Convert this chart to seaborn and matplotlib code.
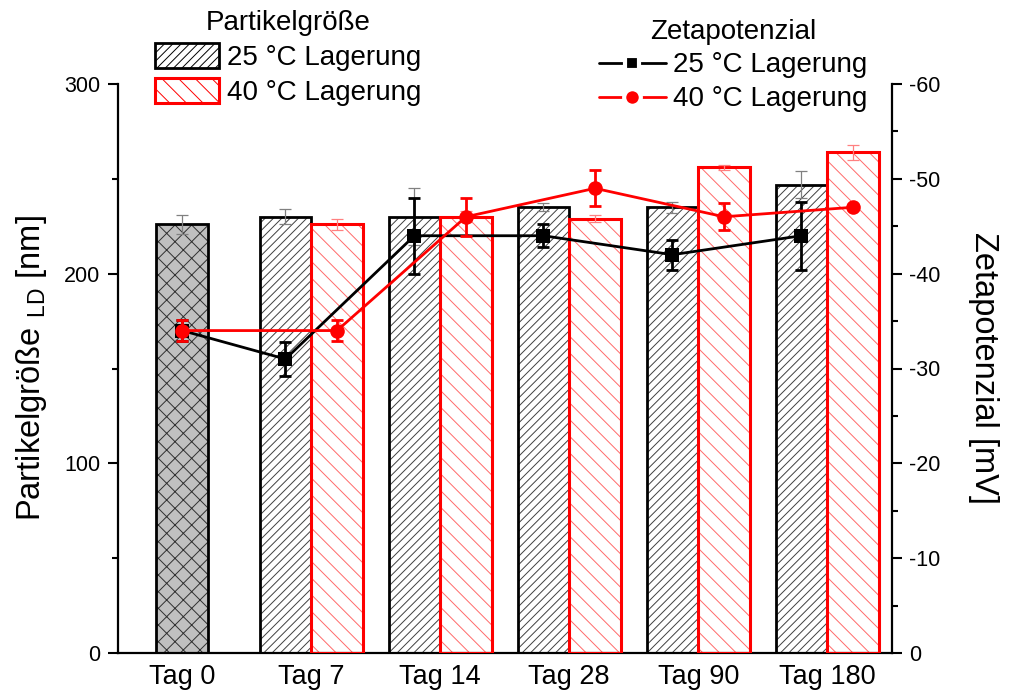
import numpy as np
import matplotlib
matplotlib.use("Agg")
import matplotlib.pyplot as plt
from matplotlib.patches import Patch
from matplotlib.lines import Line2D
import seaborn as sns

# ---------------- data ----------------
categories = ["Tag 0", "Tag 7", "Tag 14", "Tag 28", "Tag 90", "Tag 180"]

size_tag0 = 226
size_tag0_err = 5
size_25 = [230, 230, 235, 235, 247]          # Tag 7 .. Tag 180
size_25_err = [4, 15, 2, 3, 7]
size_40 = [226, 230, 229, 256, 264]
size_40_err = [3, 3, 2, 1.5, 4]

zeta_25 = [-34, -31, -44, -44, -42, -44]     # Tag 0 .. Tag 180
zeta_25_err = [1.1, 1.8, 4.0, 1.2, 1.6, 3.6]
zeta_40 = [-34, -34, -46, -49, -46, -47]
zeta_40_err = [1.1, 1.1, 2.0, 1.9, 1.4, 0.0]

legend_size_title = "Partikelgröße"
legend_zeta_title = "Zetapotenzial"
series_labels = ["25 °C Lagerung", "40 °C Lagerung"]

# ---------------- style ----------------
sns.set_theme(style="ticks")
plt.rcParams["font.family"] = ["Liberation Sans", "DejaVu Sans"]
plt.rcParams["mathtext.fontset"] = "custom"
plt.rcParams["mathtext.rm"] = "Liberation Sans"
plt.rcParams["hatch.linewidth"] = 0.7
plt.rcParams["axes.unicode_minus"] = False
for k in ["text.color", "axes.labelcolor", "xtick.color", "ytick.color",
          "axes.edgecolor"]:
    plt.rcParams[k] = "black"

W, H = 1011, 695
fig = plt.figure(figsize=(W / 100, H / 100), dpi=100)
ax = fig.add_axes([117.7 / W, 42 / H, 774 / W, 569 / H])

idx = np.arange(len(categories))
bw = 0.4
off = 0.2
pos_later = idx[1:]

# Tag 0 bar
ax.bar(idx[0], size_tag0, width=bw, color="#c0c0c0", edgecolor="#303030",
       hatch="xx", linewidth=0, zorder=2)
ax.bar(idx[0], size_tag0, width=bw, fill=False, edgecolor="black",
       linewidth=2.0, zorder=3)
ax.errorbar(idx[0], size_tag0, yerr=size_tag0_err, fmt="none",
            ecolor="#808080", elinewidth=0.9, capsize=4.3, capthick=0.9, zorder=4)

# 25 °C bars
ax.bar(pos_later - off, size_25, width=bw, color="white", edgecolor="#404040",
       hatch="////", linewidth=0, zorder=2)
ax.bar(pos_later - off, size_25, width=bw, fill=False, edgecolor="black",
       linewidth=2.0, zorder=3)
ax.errorbar(pos_later - off, size_25, yerr=size_25_err, fmt="none",
            ecolor="#808080", elinewidth=0.9, capsize=4.3, capthick=0.9, zorder=4)

# 40 °C bars
ax.bar(pos_later + off, size_40, width=bw, color="white", edgecolor="#ff6a6a",
       hatch="\\\\", linewidth=0, zorder=2)
ax.bar(pos_later + off, size_40, width=bw, fill=False, edgecolor="#ff0000",
       linewidth=2.2, zorder=3)
ax.errorbar(pos_later + off, size_40, yerr=size_40_err, fmt="none",
            ecolor="#ff8080", elinewidth=0.9, capsize=4.3, capthick=0.9, zorder=4)

ax.set_xlim(-0.5, 5.5)
ax.set_ylim(0, 300)
ax.set_xticks(idx)
ax.set_xticklabels(categories)
ax.set_yticks([0, 100, 200, 300])
ax.set_yticks([50, 150, 250], minor=True)
ax.tick_params(axis="x", length=0, pad=8, labelsize=19.5)
ax.tick_params(axis="y", which="major", direction="out", length=7.5, width=1.5,
               pad=5, labelsize=15.5)
ax.tick_params(axis="y", which="minor", direction="out", length=4, width=1.5)
for s in ["top", "right"]:
    ax.spines[s].set_visible(False)
for s in ["left", "bottom"]:
    ax.spines[s].set_linewidth(1.6)
ax.set_ylabel("Partikelgröße $_{\\mathregular{LD}}$ [nm]", fontsize=23.5,
              labelpad=11)

# ---------------- zeta potential ----------------
ax2 = ax.twinx()
zx_25 = np.concatenate([[idx[0]], pos_later - off])
zx_40 = np.concatenate([[idx[0]], pos_later + off])

sns.lineplot(x=zx_25, y=zeta_25, ax=ax2, sort=False, color="black",
             linewidth=2.0, marker="s", markersize=9.5, markeredgewidth=0,
             zorder=5, legend=False)
ax2.errorbar(zx_25, zeta_25, yerr=zeta_25_err, fmt="none", ecolor="black",
             elinewidth=2.0, capsize=4.3, capthick=2.0, zorder=5)
sns.lineplot(x=zx_40, y=zeta_40, ax=ax2, sort=False, color="#ff0000",
             linewidth=2.0, marker="o", markersize=10.5, markeredgewidth=0,
             zorder=6, legend=False)
ax2.errorbar(zx_40, zeta_40, yerr=zeta_40_err, fmt="none", ecolor="#ff0000",
             elinewidth=2.0, capsize=4.3, capthick=2.0, zorder=6)

ax2.set_ylim(0, -60)
ax2.set_yticks([0, -10, -20, -30, -40, -50, -60])
ax2.set_yticks([-5, -15, -25, -35, -45, -55], minor=True)
ax2.tick_params(axis="y", which="major", direction="out", length=7.5, width=1.5,
                pad=5, labelsize=15.5)
ax2.tick_params(axis="y", which="minor", direction="out", length=4, width=1.5)
for s in ["top", "left", "bottom"]:
    ax2.spines[s].set_visible(False)
ax2.spines["right"].set_linewidth(1.6)
ax2.set_ylabel("Zetapotenzial [mV]", fontsize=23.5, rotation=270, va="bottom",
               labelpad=20)
ax2.set_xlim(-0.5, 5.5)

# ---------------- legends ----------------
h_size = [
    Patch(facecolor="white", edgecolor="black", hatch="////", linewidth=2.0),
    Patch(facecolor="white", edgecolor="#ff0000", hatch="\\\\", linewidth=2.2),
]
leg1 = fig.legend(h_size, series_labels, title=legend_size_title,
                  loc="upper center", bbox_to_anchor=(288 / W, 1 + 7 / H),
                  frameon=False, fontsize=20, title_fontsize=20,
                  handlelength=2.3, handleheight=1.0, handletextpad=0.3,
                  labelspacing=0.26, borderpad=0.1)

h_zeta = [
    Line2D([], [], color="black", linewidth=2.0, marker="s", markersize=10,
           markeredgecolor="white", markeredgewidth=3, markerfacecolor="black"),
    Line2D([], [], color="#ff0000", linewidth=2.0, marker="o", markersize=12,
           markeredgecolor="white", markeredgewidth=3, markerfacecolor="#ff0000"),
]
leg2 = fig.legend(h_zeta, series_labels, title=legend_zeta_title,
                  loc="upper center", bbox_to_anchor=(733 / W, 1 - 2 / H),
                  frameon=False, fontsize=20, title_fontsize=20,
                  handlelength=2.4, handletextpad=0.25,
                  labelspacing=0.28, borderpad=0.1)

fig.savefig("out.png", dpi=100)
